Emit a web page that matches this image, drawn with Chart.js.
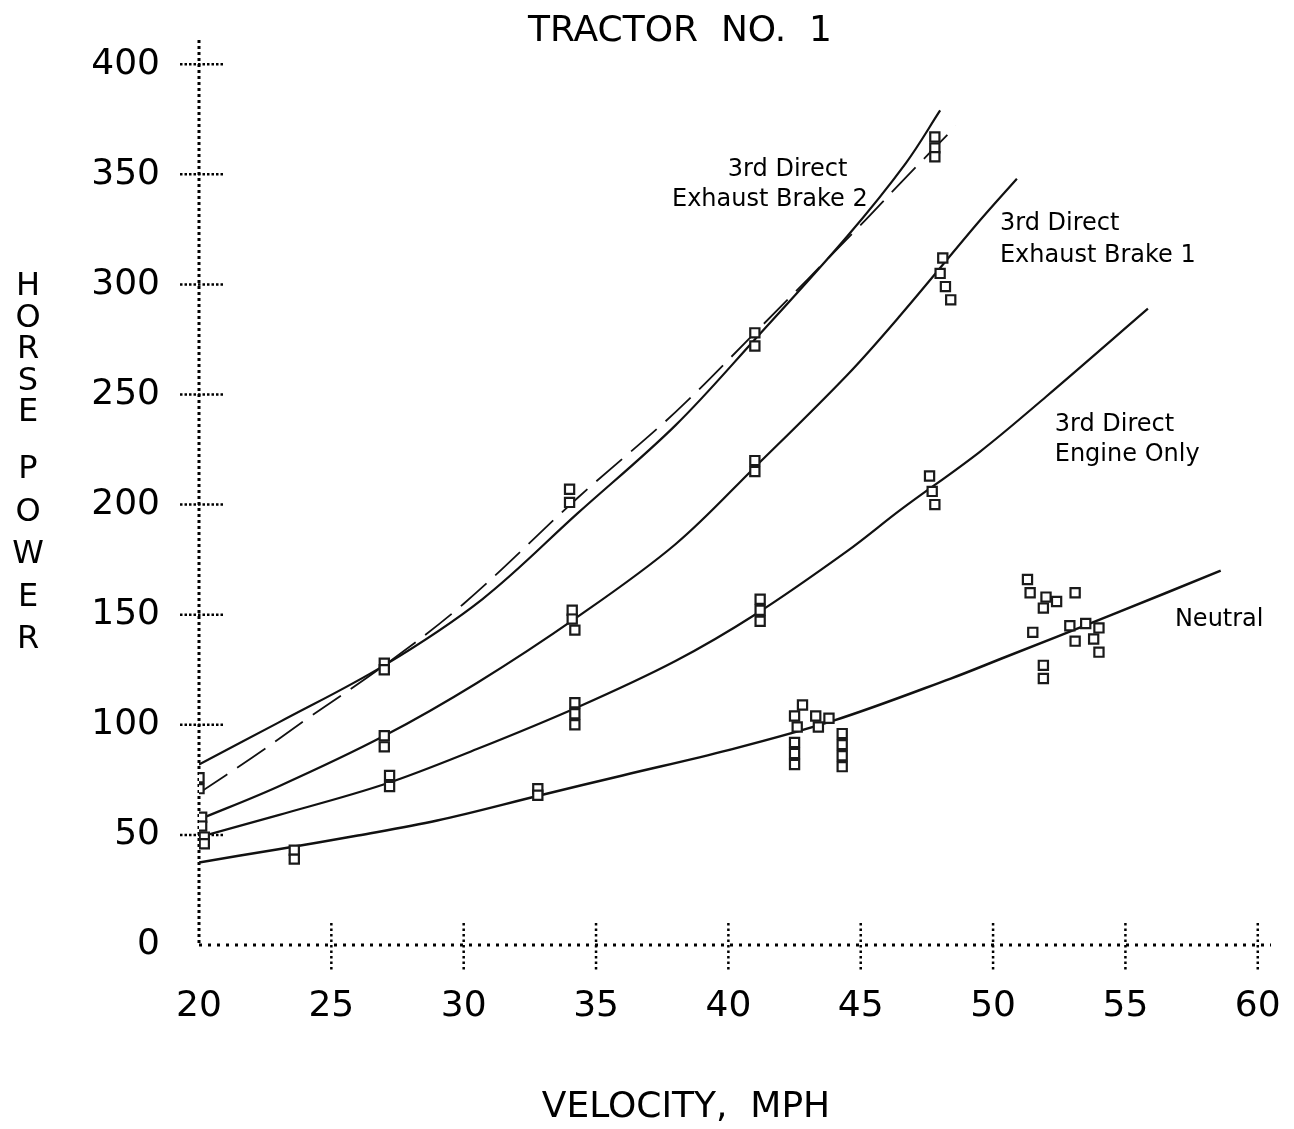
<!DOCTYPE html>
<html>
<head>
<meta charset="utf-8">
<title>Tractor No. 1</title>
<script src="https://cdn.jsdelivr.net/npm/chart.js@4.4.1/dist/chart.umd.min.js"></script>
<style>
    html, body { margin: 0; padding: 0; background: #ffffff; }
    #wrap { width: 1294px; height: 1129px; }
</style>
</head>
<body>
<div id="wrap"><canvas id="hpChart"></canvas></div>
<script>
// Tractor No. 1 - horse power vs. velocity

// axis ticks
const xTickValues = [20, 25, 30, 35, 40, 45, 50, 55, 60];
const yTickValues = [0, 50, 100, 150, 200, 250, 300, 350, 400];

// fitted curves
const brake2CurveX = [20, 23, 27, 30.7, 34.3, 38, 41, 44.5, 46.7, 48];
const brake2CurveY = [82, 101, 127, 157, 196, 236, 275, 322, 355, 379];

const brake2DashX = [20, 22, 24, 27, 30, 34.3, 38, 41, 45, 46.5, 48.6];
const brake2DashY = [69, 85, 102, 127, 155, 203, 242, 278, 327, 346, 372];

const brake1CurveX = [20, 23, 27, 30.5, 34.3, 38, 41, 44.5, 46.5, 49.5, 50.9];
const brake1CurveY = [57, 72, 95, 119, 149, 182, 217, 259, 286, 329, 348];

const engineCurveX = [20, 23, 27, 30.5, 34.3, 38, 41, 44.5, 46.5, 49.5, 52, 55.85];
const engineCurveY = [49, 59, 73, 89, 108, 129, 150, 179, 197.6, 224, 249, 289];

const neutralCurveX = [20, 23, 26, 29, 32.9, 36, 40, 44, 48.4, 50.3, 54.5, 58.6];
const neutralCurveY = [37.5, 43.5, 49.7, 56.5, 68, 77, 88.5, 102, 121, 130, 150, 170];

// measured points
const brake2MarkX = [20, 20, 27, 27, 34, 34, 41, 41, 47.8, 47.8, 47.8];
const brake2MarkY = [76, 71, 128, 125, 207, 201, 278, 272, 367, 362, 358];

const brake1MarkX = [20.1, 20.1, 27, 27, 34.1, 34.1, 34.2, 41, 41, 48.1, 48, 48.2, 48.4];
const brake1MarkY = [58, 54, 95, 90, 152, 148, 143, 220, 215, 312, 305, 299, 293];

const engineMarkX = [20.2, 20.2, 27.2, 27.2, 34.2, 34.2, 34.2, 41.2, 41.2, 41.2, 47.6, 47.7, 47.8];
const engineMarkY = [49, 46, 77, 72, 110, 105, 100, 157, 152, 147, 213, 206, 200];

const neutralMarkX = [23.6, 23.6, 32.8, 32.8, 42.8, 42.5, 43.3, 43.8, 42.6, 43.4, 42.5, 42.5, 42.5,
    44.3, 44.3, 44.3, 44.3, 51.3, 51.4, 52.0, 52.4, 53.1, 51.9, 51.5, 51.9, 51.9,
    52.9, 53.5, 54.0, 53.1, 53.8, 54.0];
const neutralMarkY = [43, 39, 71, 68, 109, 104, 104, 103, 99, 99, 92, 87, 82,
    96, 91, 86, 81, 166, 160, 158, 156, 160, 153, 142, 127, 121,
    145, 146, 144, 138, 139, 133];

// curve names (anchored in data units)
const curveLabels = [
    { text: '3rd Direct', x: 39.98, y: 352 },
    { text: 'Exhaust Brake 2', x: 37.87, y: 338.5 },
    { text: '3rd Direct', x: 50.26, y: 327.6 },
    { text: 'Exhaust Brake 1', x: 50.26, y: 313 },
    { text: '3rd Direct', x: 52.33, y: 236.3 },
    { text: 'Engine Only', x: 52.33, y: 222.6 },
    { text: 'Neutral', x: 56.87, y: 147.7 }
];

const FONT = '"DejaVu Sans", "Liberation Sans", sans-serif';

function toPoints(xs, ys) {
    return xs.map((x, i) => ({ x: x, y: ys[i] }));
}

function curve(xs, ys, dash, width) {
    return {
        type: 'line',
        data: toPoints(xs, ys),
        borderColor: '#111111',
        borderWidth: width || 2.2,
        borderDash: dash || [],
        pointRadius: 0,
        showLine: true,
        fill: false,
        tension: 0.35,
        order: 1
    };
}

function marks(xs, ys) {
    return {
        type: 'scatter',
        data: toPoints(xs, ys),
        pointStyle: 'rect',
        pointRadius: 6.5,
        borderWidth: 2.2,
        pointBorderColor: '#1a1a1a',
        pointBackgroundColor: '#ffffff',
        order: 0
    };
}

function dotted(ctx, x1, y1, x2, y2, width, dash) {
    ctx.lineWidth = width;
    ctx.setLineDash(dash);
    ctx.beginPath();
    ctx.moveTo(x1, y1);
    ctx.lineTo(x2, y2);
    ctx.stroke();
}

// dotted axes and tick crosses
const axesPlugin = {
    id: 'dottedAxes',
    beforeDatasetsDraw(chart) {
        const { ctx, chartArea, scales: { x, y } } = chart;
        const x0 = x.getPixelForValue(20);
        const y0 = y.getPixelForValue(0);

        ctx.save();
        ctx.strokeStyle = '#000000';
        dotted(ctx, x0, chartArea.top, x0, y0, 3, [3, 3]);
        dotted(ctx, x0, y0, chartArea.right, y0, 3, [3, 6]);
        yTickValues.forEach(v => {
            if (v === 0) return;
            const py = y.getPixelForValue(v);
            dotted(ctx, x0 - 19, py, x0 + 25, py, 2.5, [2.5, 2]);
        });
        xTickValues.forEach(v => {
            if (v === 20) return;
            const px = x.getPixelForValue(v);
            dotted(ctx, px, y0 - 22, px, y0 + 27, 2.5, [2.5, 3]);
        });
        ctx.restore();
    }
};

// curve names and axis titles
const textPlugin = {
    id: 'texts',
    afterDraw(chart) {
        const { ctx, scales: { x, y } } = chart;
        ctx.save();
        ctx.fillStyle = '#000000';
        ctx.font = '24px ' + FONT;
        ctx.textAlign = 'left';
        ctx.textBaseline = 'middle';
        curveLabels.forEach(l => {
            ctx.fillText(l.text, x.getPixelForValue(l.x), y.getPixelForValue(l.y));
        });

        // HORSE POWER, stacked letters
        ctx.font = '32px ' + FONT;
        ctx.textAlign = 'center';
        const horse = 'HORSE';
        const power = 'POWER';
        for (let i = 0; i < horse.length; i++) {
            ctx.fillText(horse[i], 28, 287 + i * 31.5);
        }
        for (let i = 0; i < power.length; i++) {
            ctx.fillText(power[i], 28, 470 + i * 42.5);
        }

        // x axis title
        ctx.font = '36px ' + FONT;
        ctx.fillText('VELOCITY,  MPH', 686, 1108);
        ctx.restore();
    }
};

function noOverhang(s) {
    s.paddingLeft = 0;
    s.paddingRight = 0;
    s.paddingTop = 0;
    s.paddingBottom = 0;
}

const canvas = document.getElementById('hpChart');
const ctx = canvas.getContext('2d');

new Chart(ctx, {
    type: 'scatter',
    data: {
        datasets: [
            marks(brake2MarkX, brake2MarkY),
            marks(brake1MarkX, brake1MarkY),
            marks(engineMarkX, engineMarkY),
            marks(neutralMarkX, neutralMarkY),
            curve(brake2CurveX, brake2CurveY),
            curve(brake2DashX, brake2DashY, [34, 12], 1.8),
            curve(brake1CurveX, brake1CurveY),
            curve(engineCurveX, engineCurveY),
            curve(neutralCurveX, neutralCurveY, null, 2.5)
        ]
    },
    options: {
        responsive: true,
        maintainAspectRatio: false,
        animation: false,
        layout: {
            padding: { left: 89, right: 23, top: 0, bottom: 0 }
        },
        plugins: {
            legend: { display: false },
            tooltip: { enabled: false },
            title: {
                display: true,
                text: 'TRACTOR  NO.  1',
                color: '#000000',
                font: { family: FONT, size: 36, weight: 'normal', lineHeight: 1 },
                padding: { top: 14, bottom: -10 }
            }
        },
        scales: {
            x: {
                type: 'linear',
                min: 20,
                max: 60.5,
                afterBuildTicks: s => { s.ticks = xTickValues.map(v => ({ value: v })); },
                afterFit: s => { s.height = 184; noOverhang(s); },
                grid: { display: false, drawTicks: false },
                border: { display: false },
                ticks: {
                    color: '#000000',
                    font: { family: FONT, size: 36 },
                    padding: 40,
                    maxRotation: 0,
                    autoSkip: false,
                    callback: v => String(v)
                }
            },
            y: {
                type: 'linear',
                min: 0,
                max: 411,
                afterBuildTicks: s => { s.ticks = yTickValues.map(v => ({ value: v })); },
                afterFit: s => { s.width = 110; noOverhang(s); },
                grid: { display: false, drawTicks: false },
                border: { display: false },
                ticks: {
                    color: '#000000',
                    font: { family: FONT, size: 36 },
                    padding: 39,
                    autoSkip: false,
                    callback: v => String(v)
                }
            }
        }
    },
    plugins: [axesPlugin, textPlugin]
});
</script>
</body>
</html>
